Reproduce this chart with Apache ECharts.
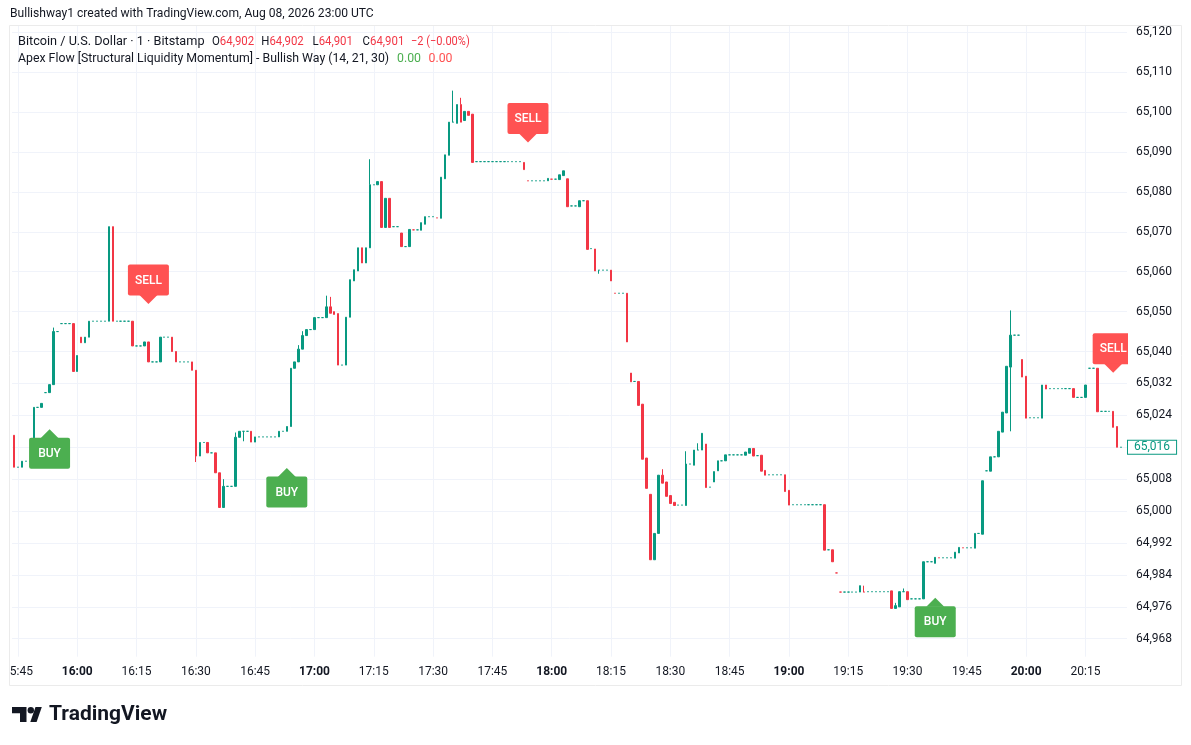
<!DOCTYPE html>
<html><head><meta charset="utf-8">
<script src="https://cdn.jsdelivr.net/npm/echarts@6/dist/echarts.min.js"></script>
<style>html,body{margin:0;padding:0;background:#fff}#c{width:1191px;height:745px}</style>
</head><body><div id="c"></div>
<script>
// ---- categories (1-minute bars, 15:44 .. 20:24, one empty slot after) ----
const times = [];
for (let m = 15 * 60 + 44; m <= 20 * 60 + 25; m++) {
  times.push(String(Math.floor(m / 60)).padStart(2, '0') + ':' + String(m % 60).padStart(2, '0'));
}
const xTickLabels = ['15:45','16:00','16:15','16:30','16:45','17:00','17:15','17:30','17:45','18:00','18:15','18:30','18:45','19:00','19:15','19:30','19:45','20:00','20:15'];
const yTicks = [65120,65110,65100,65090,65080,65070,65060,65050,65040,65032,65024,65016,65008,65000,64992,64984,64976,64968];
const yLabelTicks = [65120,65110,65100,65090,65080,65070,65060,65050,65040,65032,65024,65008,65000,64992,64984,64976,64968];

// ---- OHLC values ----
const opens = [
65019,65011,65011,65012.5,65012.5,65012.5,65026,65026,65029.7,65029.7,
65031.7,65045,65047,65047,65047,65047,65035,65043.6,65042.2,65043.6,
65047.6,65047.6,65047.6,65047.6,65047.6,65071.3,65047.6,65047.6,65047.6,65047.6,
65047.6,65041.4,65041.4,65041.4,65042.4,65037.4,65037.4,65037.4,65043.6,65043.6,
65043.6,65040,65037.4,65037.4,65037.4,65037.4,65035.3,65013.8,65017.2,65017.2,
65014.6,65014.6,65009.6,65000.9,65006.2,65006.2,65006.2,65018.5,65020,65020,
65020,65017.3,65018.6,65018.6,65018.6,65018.6,65018.6,65018.6,65020,65020,
65021.2,65035.8,65037.4,65040.6,65044,65045.5,65045.5,65048.5,65048.5,65048.5,
65051.2,65050,65049.5,65036.6,65036.6,65048.6,65057.7,65060.2,65066,65062.2,
65066,65081.8,65081.8,65082.6,65071.1,65078.4,65071.3,65071.3,65069.7,65066.3,
65066.3,65070.5,65070.5,65070.4,65071.9,65073.8,65073.8,65073.5,65073.4,65083.3,
65089.2,65097.5,65097.2,65101.9,65097.9,65100.2,65099.5,65087.6,65087.6,65087.6,
65087.6,65087.6,65087.6,65087.6,65087.6,65087.6,65087.6,65087.6,65087.6,65087.4,
65082.8,65082.8,65082.8,65082.8,65082.8,65082.8,65083.2,65083.2,65083.1,65084.1,
65083.3,65076.5,65076.5,65076.3,65077.8,65077.8,65065.8,65065.7,65060.4,65060.4,
65060.4,65060.4,65054.6,65054.6,65054.6,65054.6,65034.6,65032.5,65032.5,65026.8,
65013.3,65004.2,64987.8,64994.4,65009,65007.3,65003.9,65002.2,65001.5,65001.5,
65001.4,65011.8,65011.5,65015.3,65015.3,65016.8,65006,65007.3,65010.1,65012.6,
65012.6,65014.1,65014.1,65014.1,65014.1,65014,65014.5,65015.7,65013.9,65014,
65010.2,65009.1,65009.1,65009.1,65009.1,65009.1,65005.2,65001.6,65001.6,65001.6,
65001.6,65001.6,65001.6,65001.6,65001.6,65001.6,64990.3,64990.3,64984.5,64979.7,
64979.7,64979.7,64979.7,64979.7,64979.7,64979.7,64979.8,64979.8,64979.8,64979.8,
64979.8,64979.8,64980,64975.6,64976,64979.8,64979.8,64978,64978,64978,
64978,64987.3,64987.3,64986.9,64988.3,64988.3,64988.3,64988.3,64988.2,64989.5,
64990.8,64990.8,64990.8,64990.7,64994.4,64994.2,65010.1,65010,65013.6,65013.6,
65019.8,65024.6,65036.1,65044.1,65044.1,65038,65033.8,65023.4,65023.4,65023.4,
65023.3,65031.6,65030.7,65030.7,65030.7,65030.7,65030.7,65030.7,65030.7,65028.5,
65028.5,65028.5,65035.8,65035.8,65035.8,65025,65025,65025,65025,65021.2,65016
];
const closes = [
65011,65011,65012.5,65012.5,65012.5,65026,65026,65027,65029.7,65031.7,
65045,65045,65047,65047,65047,65035,65039,65042.2,65043.6,65047.6,
65047.6,65047.6,65047.6,65047.6,65071.3,65047.6,65047.6,65047.6,65047.6,65047.6,
65041.4,65041.4,65041.4,65042.4,65037.4,65037.4,65037.4,65043.6,65043.6,65043.6,
65040,65037.4,65037.4,65037.4,65037.4,65035.3,65013.8,65017.2,65017.2,65014.6,
65014.6,65009.6,65000.9,65006.2,65006.2,65006.2,65018.5,65020,65020,65020,
65017.3,65018.6,65018.6,65018.6,65018.6,65018.6,65018.6,65020,65020,65021.2,
65035.8,65037.4,65040.6,65044,65045.5,65045.5,65048.5,65048.5,65048.5,65051.2,
65049.6,65049.3,65036.6,65036.6,65048.6,65058,65060.5,65066,65062.2,65066,
65081.8,65081.8,65082.6,65071.1,65078.4,65071.1,65071.3,65071.3,65066.3,65066.3,
65070.6,65070.5,65070.5,65072.3,65073.8,65073.8,65073.8,65073.5,65083.7,65089.3,
65097.5,65097.5,65101.9,65097.5,65100.2,65099.2,65087.4,65087.6,65087.6,65087.6,
65087.6,65087.6,65087.6,65087.6,65087.6,65087.6,65087.6,65087.6,65087.6,65085.6,
65082.8,65082.8,65082.8,65082.8,65082.8,65083.4,65083.2,65083.2,65084.3,65085.3,
65076.3,65076.5,65076.5,65077.8,65077.8,65065.6,65065.8,65060.2,65060.4,65060.4,
65060.4,65057.7,65054.6,65054.6,65054.6,65042.4,65032.4,65032.5,65026.5,65013,
65005.7,64987.8,64994.4,65009,65007,65003.7,65001.9,65001.4,65001.5,65001.5,
65011.8,65011.8,65015.3,65015.3,65019.5,65005.9,65006,65009.9,65012.6,65012.6,
65014.1,65014.1,65014.1,65014.1,65014.1,65014.8,65015.7,65013.8,65013.9,65010,
65009,65009.1,65009.1,65009.1,65009.1,65004.9,65001.5,65001.6,65001.6,65001.6,
65001.6,65001.6,65001.6,65001.6,65001.6,64990.2,64990.3,64987.3,64984.5,64979.7,
64979.7,64979.7,64979.7,64979.7,64981.3,64979.7,64979.8,64979.8,64979.8,64979.8,
64979.8,64979.8,64975.6,64976.3,64979.8,64979.8,64977.8,64978,64978,64978,
64987.3,64987.3,64987.3,64988.4,64988.3,64988.3,64988.3,64988.3,64989.7,64990.9,
64990.8,64990.8,64990.8,64994.4,64994.4,65007.6,65010.1,65013.6,65013.6,65020,
65024.8,65036.3,65044.1,65044.1,65044.1,65033.6,65023.3,65023.4,65023.4,65023.4,
65031.6,65030.6,65030.7,65030.7,65030.7,65030.7,65030.7,65030.7,65028.5,65028.5,
65028.5,65031.6,65035.8,65035.8,65024.9,65025,65025,65025,65021,65016,65016
];
const lows = [
65011,65011,65011,65012.5,65012.5,65012.5,65026,65026,65029.7,65029.7,
65031.7,65045,65047,65047,65047,65035,65035,65042.2,65042.2,65043.6,
65047.6,65047.6,65047.6,65047.6,65047.6,65047.6,65047.6,65047.6,65047.6,65047.6,
65041.4,65041.4,65041.4,65041.4,65037.4,65037.4,65037.4,65037.4,65043.6,65043.6,
65040,65037.4,65037.4,65037.4,65037.4,65035.3,65012.3,65013.8,65017.2,65014.6,
65014.6,65009.6,65000.9,65000.9,65006.2,65006.2,65006.2,65018.5,65017.5,65020,
65017.3,65017.3,65018.6,65018.6,65018.6,65018.6,65018.6,65018.6,65020,65020,
65021.2,65035.8,65037.4,65040.6,65044,65045.5,65045.5,65048.5,65048.5,65048.5,
65049.6,65049.3,65036.6,65036.6,65036.6,65048.6,65057.7,65060.2,65062.2,65062.2,
65066,65081.8,65081.8,65071.1,65071.1,65071.1,65071.3,65071.3,65066.3,65066.3,
65066.3,65070.5,65070.5,65070.4,65071.9,65073.8,65073.8,65073.5,65073.4,65083.3,
65089.2,65097.5,65097.2,65097.5,65097.9,65099.2,65087.4,65087.6,65087.6,65087.6,
65087.6,65087.6,65087.6,65087.6,65087.6,65087.6,65087.6,65087.6,65087.6,65085.6,
65082.8,65082.8,65082.8,65082.8,65082.8,65082.8,65083.2,65083.2,65083.1,65084.1,
65076.3,65076.5,65076.5,65076.3,65077.8,65065.6,65065.8,65060.2,65059.5,65060.4,
65060.4,65057.7,65054.6,65054.6,65054.6,65042.4,65032.4,65032.5,65026.5,65013,
65005.7,64987.8,64987.8,64994.4,65007,65003.7,65001.9,65001.4,65001.5,65001.5,
65001.4,65011.8,65011.5,65015.3,65015.3,65005.9,65006,65007.3,65010.1,65012.6,
65012.6,65014.1,65014.1,65014.1,65014.1,65014,65014.5,65013.8,65013.9,65010,
65009,65009.1,65009.1,65009.1,65009.1,65004.9,65001.5,65001.6,65001.6,65001.6,
65001.6,65001.6,65001.6,65001.6,65001.6,64990.2,64990.3,64987.3,64984.5,64979.7,
64979.7,64979.7,64979.7,64979.7,64979.7,64979.7,64979.8,64979.8,64979.8,64979.8,
64979.8,64979.8,64975.6,64975.6,64976,64979.8,64977.8,64978,64978,64978,
64978,64987.3,64987.3,64986.9,64988.3,64988.3,64988.3,64988.3,64988.2,64989.5,
64990.8,64990.8,64990.8,64990.7,64994.4,64994.2,65010.1,65010,65013.6,65013.6,
65019.8,65024.6,65020,65044.1,65044.1,65033.6,65023.3,65023.4,65023.4,65023.4,
65023.3,65030.6,65030.7,65030.7,65030.7,65030.7,65030.7,65030.7,65028.5,65028.5,
65028.5,65028.5,65035.8,65035.8,65024.9,65025,65025,65025,65021,65016,65016
];
const highs = [
65019,65011,65012.5,65012.5,65012.5,65026,65026,65027,65029.7,65031.7,
65046,65045,65047,65047,65047,65047,65039,65043.6,65043.6,65047.6,
65047.6,65047.6,65047.6,65047.6,65071.3,65071.3,65047.6,65047.6,65047.6,65047.6,
65047.6,65041.4,65041.4,65042.4,65042.4,65037.4,65037.4,65043.6,65043.6,65043.6,
65043.6,65040,65037.4,65037.4,65037.4,65037.4,65035.3,65017.2,65017.2,65017.2,
65014.6,65014.6,65009.6,65008,65006.2,65006.2,65019.7,65020,65020,65020,
65020,65018.6,65018.6,65018.6,65018.6,65018.6,65018.6,65020,65020,65021.2,
65035.8,65037.4,65041.6,65045.1,65045.5,65045.5,65048.5,65048.5,65048.5,65054,
65053.7,65050,65049.5,65036.6,65048.6,65058,65060.5,65066,65066,65066,
65088.2,65081.8,65082.6,65082.6,65078.4,65078.4,65071.3,65071.3,65069.7,65066.3,
65070.6,65070.5,65070.5,65072.3,65073.8,65073.8,65073.8,65073.5,65083.7,65089.3,
65097.5,65105.4,65101.9,65103.6,65100.2,65100.2,65099.5,65087.6,65087.6,65087.6,
65087.6,65087.6,65087.6,65087.6,65087.6,65087.6,65087.6,65087.6,65087.6,65087.4,
65082.8,65082.8,65082.8,65082.8,65082.8,65083.4,65083.2,65083.2,65084.3,65085.3,
65083.3,65076.5,65076.5,65077.8,65077.8,65077.8,65065.8,65065.7,65060.4,65060.4,
65060.4,65060.4,65054.6,65054.6,65054.6,65054.6,65034.6,65032.5,65032.5,65026.8,
65013.3,65004.2,64994.4,65009,65010.5,65007.3,65003.9,65002.2,65001.5,65001.5,
65015,65011.8,65015.3,65017,65019.5,65016.8,65006,65009.9,65012.6,65012.6,
65014.1,65014.1,65014.1,65014.1,65014.1,65014.8,65015.7,65015.7,65013.9,65014,
65010.2,65009.1,65009.1,65009.1,65009.1,65009.1,65005.2,65001.6,65001.6,65001.6,
65001.6,65001.6,65001.6,65001.6,65001.6,65001.6,64990.3,64990.3,64984.5,64979.7,
64979.7,64979.7,64979.7,64979.7,64981.3,64981.3,64979.8,64979.8,64979.8,64979.8,
64979.8,64979.8,64980,64977,64979.8,64980.6,64979.8,64978,64978,64978,
64987.3,64987.3,64987.3,64988.4,64988.3,64988.3,64988.3,64988.3,64989.7,64990.9,
64990.8,64990.8,64990.8,64994.4,64994.4,65007.6,65010.1,65013.6,65013.6,65020,
65024.8,65036.3,65050.3,65044.1,65044.1,65038,65033.8,65023.4,65023.4,65023.4,
65031.6,65031.6,65030.7,65030.7,65030.7,65030.7,65030.7,65030.7,65030.7,65028.5,
65028.5,65031.6,65035.8,65035.8,65035.8,65025,65025,65025,65025,65021.2,65016
];

// ---- indicator signals ----
const signalTimes  = ['15:53','16:18','16:53','17:54','19:37','20:22'];
const signalPrices = [65020.5, 65051.9, 65010.8, 65092.4, 64978.3, 65034.7];
const signalTypes  = ['BUY','SELL','BUY','SELL','BUY','SELL'];
const lastPrice = 65016;

const FONT = 'Roboto, "Liberation Sans", sans-serif';
const UP = '#089981', DOWN = '#F23645';
const GRID_C = '#f0f3fa';

const candleData = opens.map((o, i) => [o, closes[i], lows[i], highs[i]]);
const signalData = signalTimes.map((t, i) => [t, signalPrices[i], i]);

function renderSignal(params, api) {
  const i = api.value(2);
  const isBuy = signalTypes[i] === 'BUY';
  const p = api.coord([api.value(0), api.value(1)]);
  const w = 41, h = 31, th = 9, tw = 9;
  const color = isBuy ? '#4CAF50' : '#FF5252';
  const boxTop = isBuy ? p[1] + th - 0.5 : p[1] - th - h + 0.5;
  const tri = isBuy
    ? [[p[0], p[1]], [p[0] - tw, p[1] + th], [p[0] + tw, p[1] + th]]
    : [[p[0], p[1]], [p[0] - tw, p[1] - th], [p[0] + tw, p[1] - th]];
  return {
    type: 'group',
    children: [
      { type: 'rect', shape: { x: p[0] - w / 2, y: boxTop, width: w, height: h, r: 2 }, style: { fill: color } },
      { type: 'polygon', shape: { points: tri }, style: { fill: color } },
      { type: 'text', style: { text: signalTypes[i], x: p[0], y: boxTop + h / 2 + 0.5, align: 'center', verticalAlign: 'middle', fill: '#ffffff', fontSize: 12, fontWeight: 500, fontFamily: FONT } }
    ]
  };
}

const chart = echarts.init(document.getElementById('c'), null, { renderer: 'canvas' });
const gridMarks = xTickLabels.map(t => ({ xAxis: t })).concat(yTicks.map(v => ({ yAxis: v })));

const L2 = 12.7, L2V = 12.4, L3 = 12.3;
function legendText(x, y, size, text, rich, sx) {
  return { type: 'text', z: 100, silent: true, x: x, y: y, scaleX: sx || 1,
    style: { text: text, verticalAlign: 'middle', fontSize: size, fontFamily: FONT, fill: '#131722', rich: rich || {} } };
}
const richL2 = { n: { fill: '#131722', fontSize: L2V, fontFamily: FONT }, r: { fill: '#F23645', fontSize: L2V, fontFamily: FONT } };
const SX = 0.92;

chart.setOption({
  animation: false,
  backgroundColor: '#ffffff',
  grid: { left: 10, right: 64, top: 26, bottom: 88.3, containLabel: false },
  xAxis: {
    type: 'category', data: times, boundaryGap: true,
    axisLine: { show: false }, axisTick: { show: false }, splitLine: { show: false },
    axisLabel: {
      interval: (idx, v) => xTickLabels.indexOf(v) >= 0,
      margin: 9, fontFamily: FONT, fontSize: 12, color: '#131722',
      formatter: v => (v.endsWith(':00') ? '{b|' + v + '}' : v),
      rich: { b: { fontWeight: 'bold', fontSize: 12, color: '#131722', fontFamily: FONT } }
    }
  },
  yAxis: {
    type: 'value', position: 'right', min: 64963.5, max: 65121.6,
    axisLine: { show: false }, axisTick: { show: false }, splitLine: { show: false },
    axisLabel: {
      customValues: yLabelTicks, margin: 9, fontFamily: FONT, fontSize: 12, color: '#131722',
      formatter: v => Number(v).toLocaleString('en-US')
    }
  },
  series: [
    {
      type: 'line', data: closes, z: 1, silent: true, symbol: 'none',
      lineStyle: { opacity: 0 }, itemStyle: { opacity: 0 },
      markLine: {
        silent: true, symbol: 'none', animation: false, z: 1,
        label: { show: false }, emphasis: { disabled: true },
        lineStyle: { color: GRID_C, width: 1, type: 'solid' },
        data: gridMarks
      }
    },
    {
      type: 'candlestick', data: candleData, z: 3, barWidth: 2,
      itemStyle: { color: UP, color0: DOWN, borderColor: UP, borderColor0: DOWN, borderWidth: 1 },
      markLine: {
        silent: true, symbol: 'none', animation: false, z: 6,
        lineStyle: { color: 'rgba(0,0,0,0)', width: 1, type: 'solid', opacity: 1 },
        emphasis: { disabled: true },
        label: {
          show: true, position: 'end', distance: 1, opacity: 1,
          formatter: () => lastPrice.toLocaleString('en-US'),
          color: UP, backgroundColor: '#ffffff', borderColor: UP, borderWidth: 1,
          padding: [1, 6, 0, 6], fontSize: 12, fontFamily: FONT
        },
        data: [{ yAxis: lastPrice }]
      }
    },
    {
      type: 'custom', data: signalData, renderItem: renderSignal, z: 5, clip: true,
      encode: { x: 0, y: 1 }, silent: true
    }
  ],
  graphic: [
    { type: 'rect', z: 100, silent: true, shape: { x: 0, y: 656, width: 9.5, height: 29 }, style: { fill: '#ffffff' } },
    { type: 'rect', z: 100, silent: true, shape: { x: 9.5, y: 25.5, width: 1172, height: 660 }, style: { fill: 'none', stroke: '#ebebeb', lineWidth: 1 } },
    legendText(10, 14, 12.1, 'Bullishway1 created with TradingView.com, Aug 08, 2026 23:00 UTC'),
    legendText(18, 42, L2, 'Bitcoin / U.S. Dollar · 1 · Bitstamp'),
    legendText(212, 42, L2V, '{n|O}{r|64,902}', richL2, SX),
    legendText(261.3, 42, L2V, '{n|H}{r|64,902}', richL2, SX),
    legendText(312.5, 42, L2V, '{n|L}{r|64,901}', richL2, SX),
    legendText(362.6, 42, L2V, '{n|C}{r|64,901}', richL2, SX),
    legendText(411, 42, L2V, '{r|−2 (−0.00%)}', richL2, 0.89),
    legendText(18, 59, L3, 'Apex Flow [Structural Liquidity Momentum] - Bullish Way (14, 21, 30)'),
    legendText(397, 59, L3, '{g|0.00}', { g: { fill: '#4CAF50', fontSize: L3, fontFamily: FONT } }),
    legendText(428.5, 59, L3, '{r|0.00}', { r: { fill: '#FF5252', fontSize: L3, fontFamily: FONT } }),
    { type: 'polygon', z: 100, silent: true, shape: { points: [[12, 707], [26.5, 707], [26.5, 722], [20, 722], [20, 713.3], [12, 713.3]] }, style: { fill: '#131722' } },
    { type: 'circle', z: 100, silent: true, shape: { cx: 30.8, cy: 710.2, r: 3.2 }, style: { fill: '#131722' } },
    { type: 'polygon', z: 100, silent: true, shape: { points: [[30.3, 722], [36.6, 722], [41.8, 707], [35.5, 707]] }, style: { fill: '#131722' } },
    { type: 'text', z: 100, silent: true, x: 49, y: 715,
      style: { text: 'TradingView', fill: '#131722', fontSize: 21, fontWeight: 'bold', fontFamily: FONT, verticalAlign: 'middle' } }
  ]
});
</script>
</body></html>
